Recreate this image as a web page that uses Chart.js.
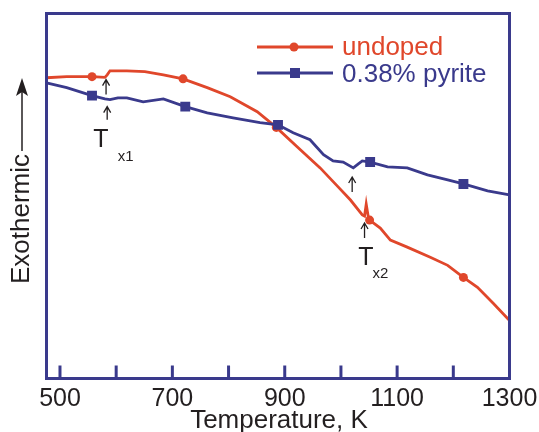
<!DOCTYPE html>
<html>
<head>
<meta charset="utf-8">
<script src="https://cdn.jsdelivr.net/npm/chart.js@4.4.0/dist/chart.umd.min.js"></script>
<style>
  html, body { margin: 0; padding: 0; background: #fff; }
  #wrap { width: 539px; height: 432px; }
</style>
</head>
<body>
<div id="wrap"><canvas id="dsc" width="539" height="432"></canvas></div>
<script>
'use strict';
const RED = '#e0472b';
const BLUE = '#3a3a8c';
const INK = '#231f20';
const FONT = '"Liberation Sans", Arial, Helvetica, sans-serif';

// undoped sample, temperature (K) and heat flow (arb. units)
const undopedT = [476, 512, 557, 580, 584, 589, 619, 651, 684, 719, 762, 803, 851, 885, 922, 963, 995, 1017, 1038, 1042, 1045, 1049, 1051, 1070, 1088, 1118, 1159, 1190, 1218, 1243, 1271, 1300];
const undopedSignal = [8.24, 8.27, 8.27, 8.25, 8.32, 8.43, 8.43, 8.41, 8.32, 8.21, 7.97, 7.72, 7.31, 6.88, 6.35, 5.77, 5.25, 4.89, 4.48, 4.45, 4.78, 4.40, 4.34, 4.12, 3.79, 3.60, 3.32, 3.10, 2.77, 2.50, 2.06, 1.59];
const undopedMarks = [557, 719, 885, 1051, 1218];

// 0.38% pyrite sample
const pyriteT = [476, 512, 557, 580, 589, 603, 619, 648, 684, 723, 762, 808, 856, 888, 915, 945, 969, 986, 1004, 1022, 1031, 1038, 1052, 1083, 1118, 1154, 1190, 1218, 1261, 1300];
const pyriteSignal = [8.10, 7.97, 7.75, 7.66, 7.64, 7.69, 7.69, 7.58, 7.66, 7.45, 7.28, 7.14, 7.01, 6.95, 6.73, 6.54, 6.13, 5.96, 5.93, 5.77, 5.88, 5.96, 5.93, 5.80, 5.77, 5.58, 5.44, 5.33, 5.14, 5.03];
const pyriteMarks = [557, 723, 888, 1052, 1218];

const xTicks = [500, 600, 700, 800, 900, 1000, 1100, 1200, 1300];
const xLabels = [500, 700, 900, 1100, 1300];

// little arrows pointing at the crystallisation events
const arrows = [
  { t: 582, tip: 8.19, tail: 7.78 },
  { t: 584, tip: 7.45, tail: 7.09 },
  { t: 1020, tip: 5.52, tail: 5.11 },
  { t: 1042, tip: 4.26, tail: 3.85 }
];
const tLabels = [
  { t: 559, y: 6.35, sub: 'x1', subT: 603, subY: 5.96 },
  { t: 1031, y: 3.10, sub: 'x2', subT: 1056, subY: 2.75 }
];

function toPoints(xs, ys) {
  return xs.map((v, i) => ({ x: v, y: ys[i] }));
}

const decorPlugin = {
  id: 'decor',
  afterDatasetsDraw(chart) {
    const { ctx, chartArea: a } = chart;
    const x = chart.scales.x, y = chart.scales.y;
    ctx.save();

    // frame + inward ticks
    ctx.strokeStyle = BLUE;
    ctx.lineWidth = 3;
    ctx.strokeRect(a.left, a.top, a.right - a.left, a.bottom - a.top);
    xTicks.forEach(v => {
      const px = x.getPixelForValue(v);
      ctx.beginPath();
      ctx.moveTo(px, a.bottom);
      ctx.lineTo(px, a.bottom - 13);
      ctx.stroke();
    });

    // tick labels
    ctx.fillStyle = INK;
    ctx.font = '25px ' + FONT;
    ctx.textAlign = 'center';
    ctx.textBaseline = 'alphabetic';
    xLabels.forEach(v => ctx.fillText(String(v), x.getPixelForValue(v), 406));

    // axis title
    ctx.font = '26px ' + FONT;
    ctx.fillText('Temperature, K', 279, 428);

    // y title with arrow
    ctx.save();
    ctx.translate(22, 284);
    ctx.rotate(-Math.PI / 2);
    ctx.textAlign = 'left';
    ctx.textBaseline = 'middle';
    ctx.fillText('Exothermic', 0, 0);
    ctx.strokeStyle = INK;
    ctx.lineWidth = 1.5;
    ctx.beginPath();
    ctx.moveTo(133, 0);
    ctx.lineTo(196, 0);
    ctx.stroke();
    ctx.beginPath();
    ctx.moveTo(206, 0);
    ctx.lineTo(188, -6);
    ctx.lineTo(192, 0);
    ctx.lineTo(188, 6);
    ctx.closePath();
    ctx.fill();
    ctx.restore();

    // event arrows
    ctx.strokeStyle = INK;
    ctx.lineWidth = 1.3;
    arrows.forEach(ar => {
      const px = x.getPixelForValue(ar.t);
      const top = y.getPixelForValue(ar.tip);
      const bot = y.getPixelForValue(ar.tail);
      ctx.beginPath();
      ctx.moveTo(px, bot);
      ctx.lineTo(px, top);
      ctx.moveTo(px - 3.5, top + 6);
      ctx.lineTo(px, top);
      ctx.lineTo(px + 3.5, top + 6);
      ctx.stroke();
    });

    // T_x labels
    ctx.textAlign = 'left';
    ctx.textBaseline = 'alphabetic';
    tLabels.forEach(l => {
      ctx.font = '25px ' + FONT;
      ctx.fillText('T', x.getPixelForValue(l.t), y.getPixelForValue(l.y));
      ctx.font = '15px ' + FONT;
      ctx.fillText(l.sub, x.getPixelForValue(l.subT), y.getPixelForValue(l.subY));
    });

    // legend
    ctx.lineWidth = 3;
    ctx.font = '26px ' + FONT;
    ctx.strokeStyle = RED;
    ctx.fillStyle = RED;
    ctx.beginPath();
    ctx.moveTo(257, 47);
    ctx.lineTo(333, 47);
    ctx.stroke();
    ctx.beginPath();
    ctx.arc(294, 47, 4.5, 0, Math.PI * 2);
    ctx.fill();
    ctx.fillText('undoped', 342, 55);

    ctx.strokeStyle = BLUE;
    ctx.fillStyle = BLUE;
    ctx.beginPath();
    ctx.moveTo(257, 73);
    ctx.lineTo(333, 73);
    ctx.stroke();
    ctx.fillRect(290, 68, 10, 10);
    ctx.fillText('0.38% pyrite', 342, 82);

    ctx.restore();
  }
};

new Chart(document.getElementById('dsc'), {
  type: 'line',
  data: {
    datasets: [
      {
        label: 'undoped',
        data: toPoints(undopedT, undopedSignal),
        borderColor: RED,
        backgroundColor: RED,
        borderWidth: 2.8,
        pointStyle: 'circle',
        pointRadius: c => (c.raw && undopedMarks.includes(c.raw.x) ? 4.5 : 0),
        pointBorderWidth: 0,
        tension: 0,
        order: 2
      },
      {
        label: '0.38% pyrite',
        data: toPoints(pyriteT, pyriteSignal),
        borderColor: BLUE,
        backgroundColor: BLUE,
        borderWidth: 2.8,
        pointStyle: 'rect',
        pointRadius: c => (c.raw && pyriteMarks.includes(c.raw.x) ? 7 : 0),
        pointBorderWidth: 0,
        tension: 0,
        order: 1
      }
    ]
  },
  options: {
    responsive: false,
    devicePixelRatio: 1,
    animation: false,
    events: [],
    layout: { padding: { left: 46.5, right: 29.5, top: 13.5, bottom: 53.5 } },
    plugins: { legend: { display: false }, tooltip: { enabled: false } },
    scales: {
      x: { type: 'linear', min: 476, max: 1300, display: false },
      y: { type: 'linear', min: 0, max: 10, display: false }
    }
  },
  plugins: [decorPlugin]
});
</script>
</body>
</html>
